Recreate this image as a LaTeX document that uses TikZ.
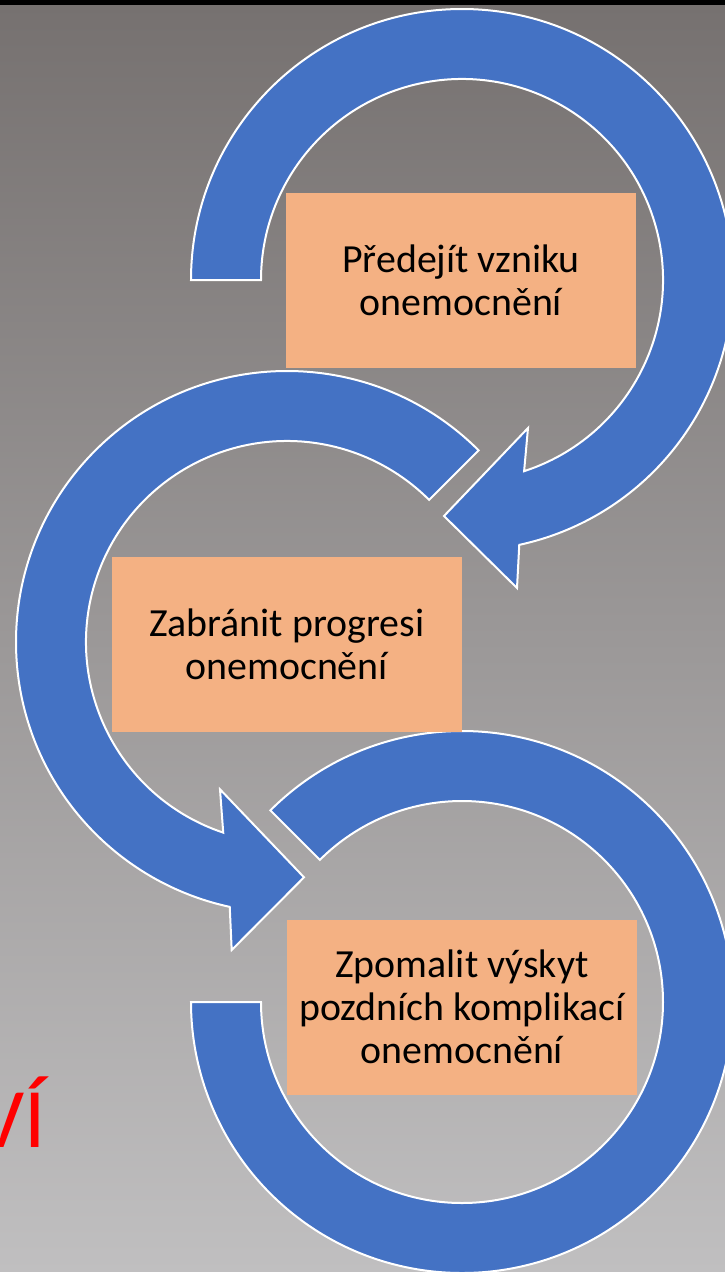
\documentclass[tikz,border=0pt]{standalone}
\usepackage{fontspec}
\setmainfont{Carlito}
\usetikzlibrary{calc}
\definecolor{bgtop}{RGB}{118,113,112}
\definecolor{bgbot}{RGB}{192,191,192}
\definecolor{arrowblue}{RGB}{68,114,196}
\definecolor{boxpeach}{RGB}{244,177,131}
\tikzset{
  band/.style={fill=arrowblue, draw=white, line width=2bp, line join=miter},
  stepbox/.style={fill=boxpeach, inner sep=0pt, minimum width=350bp, minimum height=175bp,
    align=center, text=black, font=\fontsize{40}{43}\selectfont},
}
\begin{document}
\begin{tikzpicture}[x=1bp,y=1bp]
\useasboundingbox (0,0) rectangle (725,-1272);
\clip (0,0) rectangle (725,-1272);
\shade[top color=bgtop, bottom color=bgbot] (0,-5) rectangle (725,-1272);
\fill[black] (0,0) rectangle (725,-5);

\node[anchor=base west, text=red, inner sep=0pt, font=\fontsize{85}{100}\selectfont] (vi) at (-24,-1147) {VÍ};

\coordinate (c1) at (462,-280);
\coordinate (c2) at (287,-642);
\coordinate (c3) at (462,-1002);

% arrow 1
\path[band] ($(c1)+(180:201)$) -- ($(c1)+(180:271)$)
  arc[start angle=180, end angle=-77.8, radius=271]
  -- (517,-588) -- (444,-516) -- (528,-428)
  -- ($(c1)+(-72:201)$) arc[start angle=-72, end angle=180, radius=201] -- cycle;

% arrow 2
\path[band] ($(c2)+(45:201)$) -- ($(c2)+(45:271)$)
  arc[start angle=45, end angle=257.8, radius=271]
  -- (231.7,-950) -- (304,-877.3) -- (220,-789.3)
  -- ($(c2)+(251.5:201)$) arc[start angle=251.5, end angle=45, radius=201] -- cycle;

% arrow 3
\path[band] ($(c3)+(135:201)$) -- ($(c3)+(135:271)$)
  arc[start angle=135, end angle=-180, radius=271]
  -- ($(c3)+(180:201)$) arc[start angle=-180, end angle=135, radius=201] -- cycle;

\node[stepbox] (b1) at (461,-280.5) {Předejít vzniku\\onemocnění};
\node[stepbox] (b2) at (286.75,-644.5) {Zabránit progresi\\onemocnění};
\node[stepbox] (b3) at (462,-1007) {Zpomalit výskyt\\pozdních komplikací\\onemocnění};
\end{tikzpicture}
\end{document}
